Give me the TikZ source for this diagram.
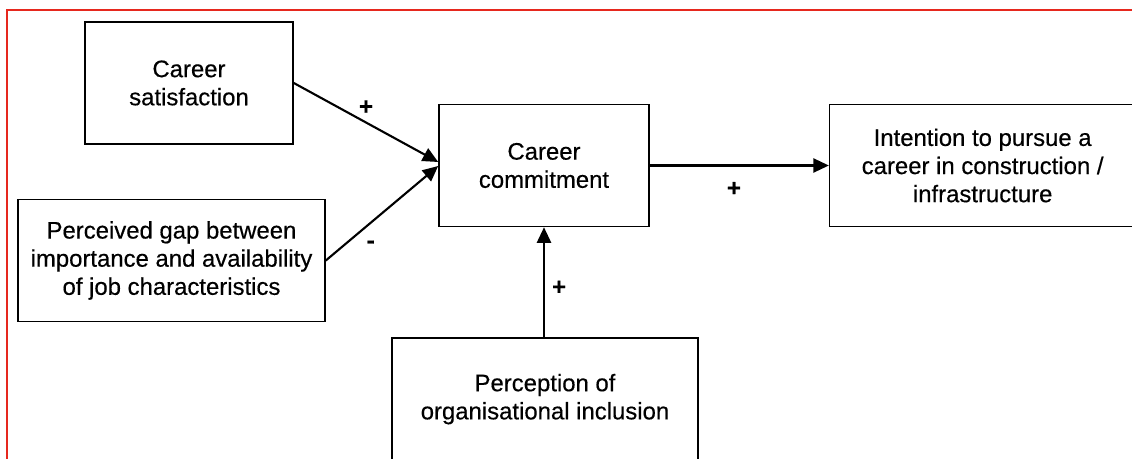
\documentclass[tikz,border=0pt]{standalone}
\usepackage{fontspec}
\setmainfont{Liberation Sans}[FakeBold=0.4]
\usetikzlibrary{
  positioning,
  arrows.meta,
  calc
}
\definecolor{framered}{RGB}{230,40,30}

\begin{document}
\begin{tikzpicture}[
  x=0.025cm, y=-0.025cm,
  every node/.style={font=\fontsize{17}{20}\selectfont},
  factor/.style={draw, rectangle, line width=1.1pt, minimum width=7.65cm, minimum height=3.05cm, align=center, inner sep=0pt},
  sign/.style={font=\fontsize{17}{20}\selectfont\bfseries, inner sep=0pt},
  arrow/.style={-{Triangle[length=11pt, width=10pt]}, line width=1.5pt},
  frame/.style={draw=framered, line width=1.3pt}
]
\clip (0,0) rectangle (1132,459);

% Outer frame
\draw[frame] (7,470) -- (7,10) -- (1140,10);

% Antecedents
\node[factor, minimum width=5.2cm] (sat) at (189,83) {Career\\satisfaction};
\node[factor, minimum width=7.675cm] (gap) at (171.5,260.5) {Perceived gap between\\importance and availability\\of job characteristics};

% Career commitment
\node[factor, minimum width=5.25cm] (com) at (544,165.5) {Career\\commitment};

% Outcome
\node[factor, right=4.475cm of com] (int) {Intention to pursue a\\career in construction /\\infrastructure};

% Inclusion
\node[factor, below=2.75cm of com, xshift=0.025cm] (incl) {Perception of\\organisational inclusion};

% Arrows into commitment
\draw[arrow] (sat.east) -- ($(com.west)+(0,-3.5)$)
  node[sign, midway, above=5pt] (s1) {+};
\draw[arrow] (gap.east) -- ($(com.west)+(0,0.5)$)
  node[sign, pos=0.4, below=12pt] (s2) {-};
\draw[arrow] (incl.north -| com.south) -- (com.south)
  node[sign, pos=0.45, right=5pt] (s3) {+};

% Arrow to outcome
\draw[arrow] (com.east) -- (int.west)
  node[sign, pos=0.47, below=11pt] (s4) {+};

\end{tikzpicture}
\end{document}
